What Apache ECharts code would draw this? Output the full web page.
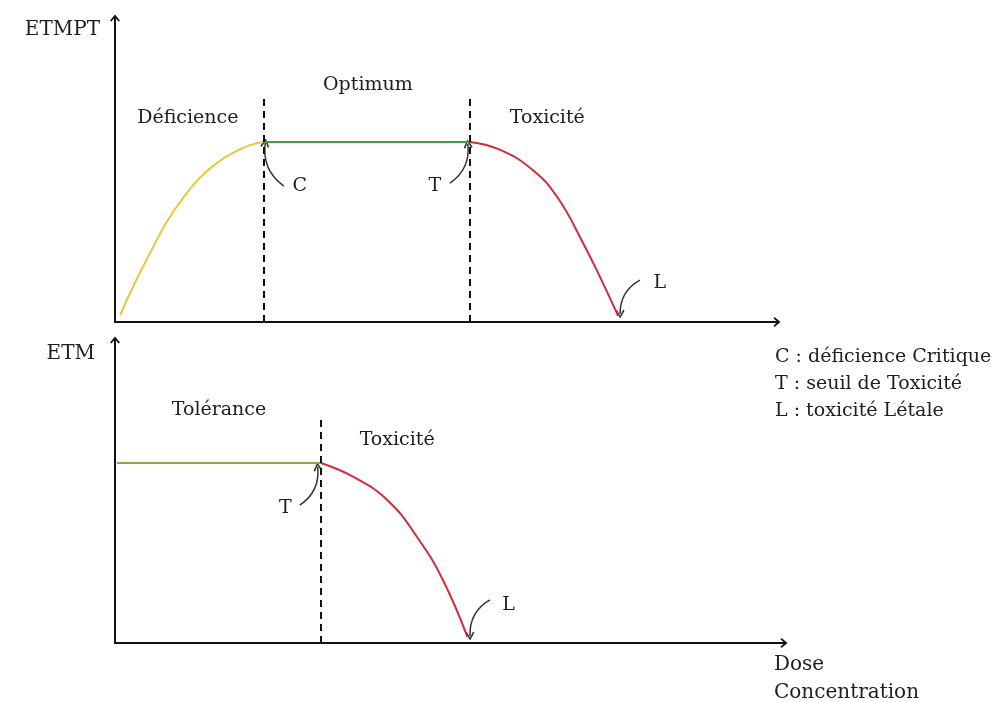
<!DOCTYPE html>
<html>
<head>
<meta charset="utf-8">
<script src="https://cdn.jsdelivr.net/npm/echarts@6/dist/echarts.min.js"></script>
<style>
  html, body { margin: 0; padding: 0; background: #fff; }
  #chart { width: 1007px; height: 702px; }
</style>
</head>
<body>
<div id="chart"></div>
<script>
// --- data (x = dose, y = response, arbitrary units) ---
// top panel: ETMPT
const deficience = [[0.8, 2.3], [2.7, 11.5], [5.3, 22.7], [7.9, 33.2], [10.3, 40.9], [12.8, 47.4],
  [15.4, 52.3], [17.8, 55.6], [20.4, 58.2], [22.4, 59.2]]
const optimum = [[22.4, 59.2], [53.6, 59.2]]
const toxiciteTop = [[53.6, 59.2], [58.2, 56.6], [63.1, 50.0], [66.8, 41.1], [70.7, 26.0], [73.7, 12.8], [76.0, 2.0]]
const seuilsTop = [22.4, 53.6]
const seuilHautTop = 73.7

// bottom panel: ETM
const tolerance = [[0.3, 59.4], [31.1, 59.4]]
const toxiciteBas = [[31.1, 59.4], [36.0, 54.8], [41.1, 47.2], [45.6, 35.0], [49.5, 20.8], [53.2, 2.0]]
const seuilsBas = [31.1]
const seuilHautBas = 73.6

// zone labels [x, y, text]
const labelsTop = [[11.0, 67.1, 'Déficience'], [38.2, 78.0, 'Optimum'], [65.3, 67.1, 'Toxicité'],
  [27.9, 44.7, 'C'], [48.3, 44.7, 'T'], [82.3, 12.8, 'L']]
const labelsBas = [[15.7, 76.9, 'Tolérance'], [42.6, 67.0, 'Toxicité'], [25.7, 44.6, 'T'], [59.4, 12.5, 'L']]

// annotation arrows [x1, y1, x2, y2, curveness]
const flechesTop = [[25.5, 44.7, 22.7, 58.9, 0.3], [50.6, 45.7, 53.3, 58.6, -0.3], [79.3, 13.8, 76.3, 2.6, -0.3]]
const flechesBas = [[27.9, 45.5, 30.6, 58.1, -0.3], [56.6, 14.2, 53.6, 2.3, -0.3]]

const legende = ['C : déficience Critique', 'T : seuil de Toxicité', 'L : toxicité Létale']

const FONT = 'DejaVu Serif'
const INK = '#1e1e1e'
const chevron = 'path://M5,0 L10,6 L8.6,7 L5,2.8 L1.4,7 L0,6 Z'

const chart = echarts.init(document.getElementById('chart'))

function axisLine() {
  return { show: true, symbol: ['none', chevron], symbolSize: [11, 7], lineStyle: { color: '#111', width: 2 } }
}

function xAxis(gridIndex, max, name) {
  return {
    type: 'value', gridIndex, min: 0, max,
    axisLine: axisLine(), axisTick: { show: false }, axisLabel: { show: false }, splitLine: { show: false },
    name, nameLocation: 'end', nameGap: -10,
    nameTextStyle: { fontFamily: FONT, fontSize: 20, color: INK, align: 'left', verticalAlign: 'top', lineHeight: 28, padding: [8, 0, 0, 0] }
  }
}

function yAxis(gridIndex, name, gap, padRight) {
  return {
    type: 'value', gridIndex, min: 0, max: 100,
    axisLine: axisLine(), axisTick: { show: false }, axisLabel: { show: false }, splitLine: { show: false },
    name, nameLocation: 'end', nameGap: gap,
    nameTextStyle: { fontFamily: FONT, fontSize: 20, color: INK, align: 'right', verticalAlign: 'middle', padding: [0, padRight, 0, 0] }
  }
}

function courbe(data, color, idx, extra) {
  return Object.assign({
    type: 'line', xAxisIndex: idx, yAxisIndex: idx, data, smooth: 0.45,
    symbol: 'none', silent: true, lineStyle: { color, width: 2 }
  }, extra || {})
}

function seuils(xs, yTop) {
  return {
    silent: true, symbol: 'none', label: { show: false },
    lineStyle: { color: '#111', width: 2, type: [7, 5] },
    data: xs.map(x => [{ coord: [x, 0] }, { coord: [x, yTop] }])
  }
}

function textes(labels, idx) {
  return {
    type: 'scatter', xAxisIndex: idx, yAxisIndex: idx, symbolSize: 0, silent: true,
    itemStyle: { opacity: 1 },
    data: labels.map(l => ({ value: [l[0], l[1]], name: l[2] })),
    label: { show: true, position: 'inside', formatter: '{b}', fontFamily: FONT, fontSize: 19, color: INK }
  }
}

// curved annotation arrows (lines series supports curveness per item)
function fleches(list, idx) {
  return {
    type: 'lines', coordinateSystem: 'cartesian2d', xAxisIndex: idx, yAxisIndex: idx, silent: true,
    symbol: ['none', 'path://M0,7 L5,0 L10,7 L8.5,8 L5,2.6 L1.5,8 Z'], symbolSize: 9,
    lineStyle: { color: '#333', width: 1.5, opacity: 1 },
    data: list.map(f => ({ coords: [[f[0], f[1]], [f[2], f[3]]], lineStyle: { curveness: f[4] } }))
  }
}

const option = {
  animation: false,
  grid: [
    { left: 115, top: 18, width: 662, height: 304, outerBoundsMode: 'none' },
    { left: 115, top: 340, width: 669, height: 303, outerBoundsMode: 'none' }
  ],
  xAxis: [xAxis(0, 100, ''), xAxis(1, 101, 'Dose\nConcentration')],
  yAxis: [yAxis(0, 'ETMPT', -12, 15), yAxis(1, 'ETM', -14, 20)],
  graphic: [{
    type: 'text', left: 775, top: 344,
    style: { text: legende.join('\n'), fontFamily: FONT, fontSize: 19, lineHeight: 27, fill: INK }
  }],
  series: [
    courbe(deficience, '#e8c73a', 0),
    courbe(optimum, '#3aa040', 0, { markLine: seuils(seuilsTop, seuilHautTop) }),
    courbe(toxiciteTop, '#d42a3c', 0),
    courbe(tolerance, '#8aab3a', 1, { markLine: seuils(seuilsBas, seuilHautBas) }),
    courbe(toxiciteBas, '#d42a3c', 1),
    textes(labelsTop, 0),
    textes(labelsBas, 1),
    fleches(flechesTop, 0),
    fleches(flechesBas, 1)
  ]
}

chart.setOption(option)
</script>
</body>
</html>
